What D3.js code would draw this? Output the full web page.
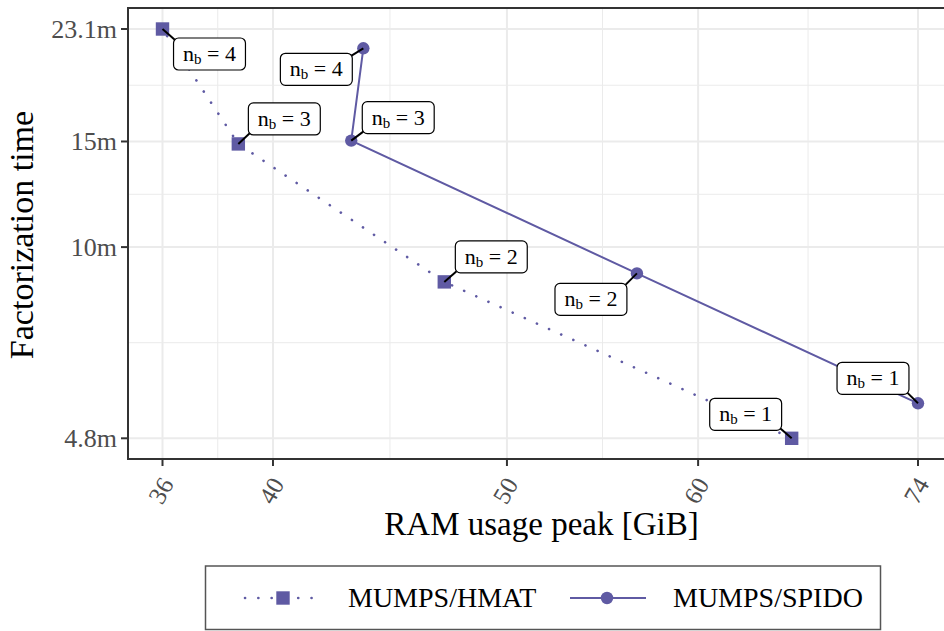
<!DOCTYPE html>
<html>
<head>
<meta charset="utf-8">
<script src="https://cdn.jsdelivr.net/npm/d3@7"></script>
<style>
  body { margin: 0; background: #fff; }
  svg { display: block; font-family: "Liberation Serif", "DejaVu Serif", serif; }
</style>
</head>
<body>
<svg id="chart" width="944" height="631"></svg>
<script>
// data (nb = 1..4)
const nbValues = [1, 2, 3, 4];
const hmatRam = [65.6, 47.1, 38.7, 36.0];
const hmatTime = [4.8, 8.75, 14.86, 23.1];
const spidoRam = [74.0, 56.6, 43.1, 43.6];
const spidoTime = [5.49, 9.04, 15.05, 21.45];

const xTicks = [36, 40, 50, 60, 74];
const yTicks = [4.8, 10, 15, 23.1];
const yTickLabels = ["4.8m", "10m", "15m", "23.1m"];
const seriesNames = ["MUMPS/HMAT", "MUMPS/SPIDO"];

// where the repelled label boxes sit, relative to their point (px)
const hmatLabelShift = [[-46, -24], [47, -25], [46, -25], [47, 25]];
const spidoLabelShift = [[-45, -25], [-46, 26], [47, -23], [-47, 21]];

const color = "#5f5aa3";
const svg = d3.select("#chart");

// panel
const panel = {left: 128, top: 8, right: 955, bottom: 459};
const x = d3.scaleLog().domain([36, 74]).range([162.5, 918]);
const y = d3.scaleLog().domain([4.8, 23.1]).range([438.3, 29]);

// minor breaks = geometric midpoints, like ggplot on log scale
const mid = ticks => d3.range(ticks.length - 1).map(i => Math.sqrt(ticks[i] * ticks[i + 1]));

const grid = svg.append("g");
grid.selectAll(".xminor").data(mid(xTicks)).join("line")
    .attr("x1", d => x(d)).attr("x2", d => x(d))
    .attr("y1", panel.top).attr("y2", panel.bottom)
    .attr("stroke", "#ebebeb").attr("stroke-width", 1);
grid.selectAll(".yminor").data(mid(yTicks)).join("line")
    .attr("y1", d => y(d)).attr("y2", d => y(d))
    .attr("x1", panel.left).attr("x2", panel.right)
    .attr("stroke", "#ebebeb").attr("stroke-width", 1);
grid.selectAll(".xmajor").data(xTicks).join("line")
    .attr("x1", d => x(d)).attr("x2", d => x(d))
    .attr("y1", panel.top).attr("y2", panel.bottom)
    .attr("stroke", "#ebebeb").attr("stroke-width", 2);
grid.selectAll(".ymajor").data(yTicks).join("line")
    .attr("y1", d => y(d)).attr("y2", d => y(d))
    .attr("x1", panel.left).attr("x2", panel.right)
    .attr("stroke", "#ebebeb").attr("stroke-width", 2);

const hmat = nbValues.map((nb, i) => ({nb, ram: hmatRam[i], time: hmatTime[i], shift: hmatLabelShift[i]}));
const spido = nbValues.map((nb, i) => ({nb, ram: spidoRam[i], time: spidoTime[i], shift: spidoLabelShift[i]}));

const line = d3.line().x(d => x(d.ram)).y(d => y(d.time));

svg.append("path").datum(hmat)
    .attr("d", line).attr("fill", "none")
    .attr("stroke", color).attr("stroke-width", 2.6)
    .attr("stroke-linecap", "round")
    .attr("stroke-dasharray", "0.1 13.2");
svg.append("path").datum(spido)
    .attr("d", line).attr("fill", "none")
    .attr("stroke", color).attr("stroke-width", 2);

svg.append("g").selectAll("rect").data(hmat).join("rect")
    .attr("x", d => x(d.ram) - 6.7).attr("y", d => y(d.time) - 6.7)
    .attr("width", 13.4).attr("height", 13.4)
    .attr("fill", color);
svg.append("g").selectAll("circle").data(spido).join("circle")
    .attr("cx", d => x(d.ram)).attr("cy", d => y(d.time)).attr("r", 6.2)
    .attr("fill", color);

// labels: n_b = k in rounded boxes with a leader segment
const labelLayer = svg.append("g");
function addLabel(d) {
  const px = x(d.ram), py = y(d.time);
  const cx = px + d.shift[0], cy = py + d.shift[1];
  const g = labelLayer.append("g");
  const seg = g.append("line");
  const box = g.append("rect");
  const t = g.append("text")
      .attr("font-size", 22).attr("fill", "#000")
      .attr("text-anchor", "middle")
      .attr("x", cx).attr("y", cy + 7);
  t.append("tspan").text("n");
  t.append("tspan").attr("font-size", 15).attr("dy", 3).text("b");
  t.append("tspan").attr("dy", -3).text(" = " + d.nb);
  const w = t.node().getComputedTextLength() + 19, h = 32, r = 5;
  const x0 = cx - w / 2, y0 = cy - h / 2, x1 = cx + w / 2, y1 = cy + h / 2;
  box.attr("x", x0).attr("y", y0).attr("width", w).attr("height", h)
      .attr("rx", r).attr("fill", "#fff").attr("stroke", "#000").attr("stroke-width", 1.2);
  // nearest point on rounded box
  const qx = Math.max(x0 + r, Math.min(x1 - r, px));
  const qy = Math.max(y0 + r, Math.min(y1 - r, py));
  const len = Math.hypot(px - qx, py - qy) || 1;
  seg.attr("x1", px).attr("y1", py)
      .attr("x2", qx + r * (px - qx) / len).attr("y2", qy + r * (py - qy) / len)
      .attr("stroke", "#000").attr("stroke-width", 2);
}
hmat.forEach(addLabel);
spido.forEach(addLabel);

// panel border
svg.append("rect")
    .attr("x", panel.left).attr("y", panel.top)
    .attr("width", panel.right - panel.left).attr("height", panel.bottom - panel.top)
    .attr("fill", "none").attr("stroke", "#333").attr("stroke-width", 2);

// y axis
const yAx = svg.append("g");
yAx.selectAll("line").data(yTicks).join("line")
    .attr("x1", panel.left - 7).attr("x2", panel.left)
    .attr("y1", d => y(d)).attr("y2", d => y(d))
    .attr("stroke", "#333").attr("stroke-width", 2);
yAx.selectAll("text").data(yTicks).join("text")
    .attr("x", 117).attr("y", d => y(d) + 8.5)
    .attr("text-anchor", "end").attr("font-size", 26).attr("fill", "#4d4d4d")
    .text((d, i) => yTickLabels[i]);

// x axis
const xAx = svg.append("g");
xAx.selectAll("line").data(xTicks).join("line")
    .attr("x1", d => x(d)).attr("x2", d => x(d))
    .attr("y1", panel.bottom).attr("y2", panel.bottom + 7)
    .attr("stroke", "#333").attr("stroke-width", 2);
xAx.selectAll("text").data(xTicks).join("text")
    .attr("transform", d => `translate(${x(d) + 12},${484}) rotate(-60)`)
    .attr("text-anchor", "end").attr("font-size", 25).attr("fill", "#4d4d4d")
    .text(d => d);

// titles
svg.append("text")
    .attr("x", 541.5).attr("y", 534.5)
    .attr("text-anchor", "middle").attr("font-size", 33).attr("fill", "#000")
    .text("RAM usage peak [GiB]");
svg.append("text")
    .attr("transform", "translate(33,235) rotate(-90)")
    .attr("text-anchor", "middle").attr("font-size", 34).attr("fill", "#000")
    .text("Factorization time");

// legend
const leg = svg.append("g");
leg.append("rect")
    .attr("x", 205.5).attr("y", 566).attr("width", 675).attr("height", 63.5)
    .attr("fill", "#fff").attr("stroke", "#555").attr("stroke-width", 1.5);
const ly = 598;
leg.append("line")
    .attr("x1", 245).attr("x2", 321).attr("y1", ly).attr("y2", ly)
    .attr("stroke", color).attr("stroke-width", 2.6)
    .attr("stroke-linecap", "round").attr("stroke-dasharray", "0.1 13.2");
leg.append("rect")
    .attr("x", 283 - 6.7).attr("y", ly - 6.7).attr("width", 13.4).attr("height", 13.4)
    .attr("fill", color);
leg.append("line")
    .attr("x1", 570).attr("x2", 646).attr("y1", ly).attr("y2", ly)
    .attr("stroke", color).attr("stroke-width", 2);
leg.append("circle")
    .attr("cx", 607).attr("cy", ly).attr("r", 6.2).attr("fill", color);
leg.selectAll("text").data(seriesNames).join("text")
    .attr("x", (d, i) => i === 0 ? 348 : 673).attr("y", ly + 9)
    .attr("font-size", 28).attr("fill", "#000")
    .text(d => d);
</script>
</body>
</html>
